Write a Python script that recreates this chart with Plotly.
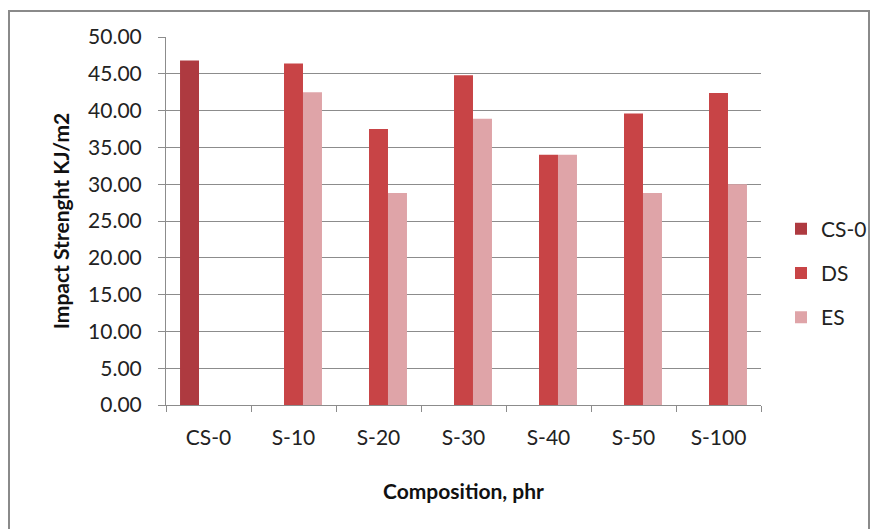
import plotly.graph_objects as go

categories = ["CS-0", "S-10", "S-20", "S-30", "S-40", "S-50", "S-100"]
cs0_values = [46.8, None, None, None, None, None, None]
ds_values = [None, 46.4, 37.5, 44.8, 34.0, 39.6, 42.4]
es_values = [None, 42.5, 28.8, 38.9, 34.0, 28.8, 30.0]
y_ticks = [0, 5, 10, 15, 20, 25, 30, 35, 40, 45, 50]

W, H = 875, 529
L, R, T, B = 166, 114, 37, 124
FONT = "Lato, 'Open Sans', sans-serif"
FS = 21

fig = go.Figure()
series = [("CS-0", cs0_values, "#AE3A40"), ("DS", ds_values, "#C84446"), ("ES", es_values, "#DFA4A8")]
for i, (name, vals, col) in enumerate(series):
    fig.add_trace(go.Bar(name=name, x=categories, y=vals, marker=dict(color=col, line=dict(width=0)),
                         legendgroup=f"g{i}"))

pw = W - L - R
ph = H - T - B
def px_x(p): return (p - L) / pw
def px_y(p): return (H - B - p) / ph

fig.update_layout(
    width=W, height=H,
    margin=dict(l=L, r=R, t=T, b=B, autoexpand=False),
    barmode="group", bargap=0.33, bargroupgap=0,
    plot_bgcolor="white", paper_bgcolor="white",
    font=dict(family=FONT, size=FS, color="#222222"),
    showlegend=True,
    legend=dict(x=px_x(781), y=px_y(273), xanchor="left", yanchor="middle",
                font=dict(size=FS, color="#222222"), tracegroupgap=14, itemwidth=30,
                bgcolor="rgba(0,0,0,0)"),
    xaxis=dict(
        title=dict(text="<b>Composition, phr</b>", font=dict(size=FS, color="#111111"), standoff=36),
        showline=True, linecolor="#8C8C8C", linewidth=1,
        ticks="outside", tickson="boundaries", ticklen=6, tickcolor="#8C8C8C",
        tickfont=dict(size=FS, color="#222222"), ticklabelstandoff=14,
    ),
    yaxis=dict(
        title=dict(text="<b>Impact Strenght KJ/m2</b>", font=dict(size=FS, color="#111111"), standoff=12),
        range=[0, 50], tickvals=y_ticks, tickformat=".2f",
        showline=True, linecolor="#8C8C8C", linewidth=1,
        ticks="outside", ticklen=7, tickcolor="#8C8C8C",
        showgrid=True, gridcolor="#8C8C8C", gridwidth=1,
        tickfont=dict(size=FS, color="#222222"), ticklabelstandoff=12,
        zeroline=False,
    ),
    shapes=[dict(type="rect", xref="paper", yref="paper",
                 x0=px_x(9), x1=px_x(869), y0=px_y(540), y1=px_y(11),
                 line=dict(color="#8A8A8A", width=2), fillcolor="rgba(0,0,0,0)", layer="below")],
)

fig.write_html("out.html")
